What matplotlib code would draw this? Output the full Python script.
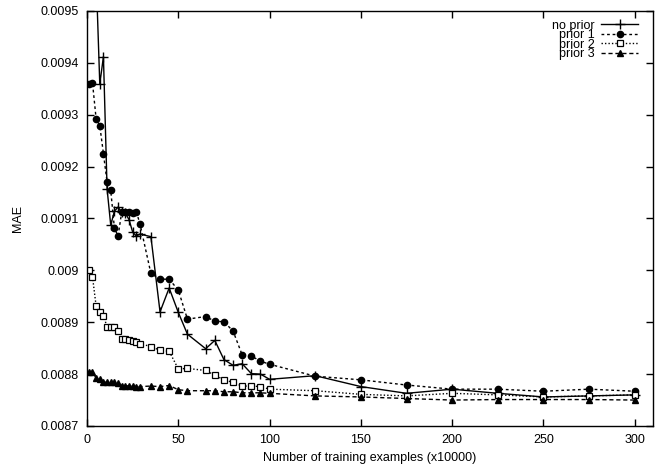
import numpy as np
import matplotlib
matplotlib.use("Agg")
import matplotlib.pyplot as plt

plt.rcParams['font.family'] = ['Liberation Sans', 'DejaVu Sans']

# training set sizes (x10000)
x = [1, 3, 5, 7, 9, 11, 13, 15, 17, 19, 21, 23, 25, 27, 29,
     35, 40, 45, 50, 55, 65, 70, 75, 80, 85, 90, 95, 100,
     125, 150, 175, 200, 225, 250, 275, 300]

no_prior = [0.0100, 0.0098, 0.00957, 0.009359, 0.009412, 0.009157, 0.009087, 0.009114,
            0.009122, 0.009112, 0.009110, 0.009098, 0.009074, 0.009066, 0.009070,
            0.009065, 0.008920, 0.008966, 0.008919, 0.008877, 0.008849, 0.008865,
            0.008828, 0.008817, 0.008820, 0.008801, 0.008800, 0.008790,
            0.008797, 0.008776, 0.008763, 0.008771, 0.008763, 0.008756, 0.008758, 0.008760]

prior1 = [0.009359, 0.009362, 0.009292, 0.009279, 0.009225, 0.009170, 0.009154, 0.009082,
          0.009066, 0.009112, 0.009112, 0.009112, 0.009110, 0.009113, 0.009090,
          0.008994, 0.008983, 0.008983, 0.008962, 0.008906, 0.008911, 0.008902,
          0.008901, 0.008883, 0.008837, 0.008835, 0.008825, 0.008819,
          0.008796, 0.008789, 0.008779, 0.008771, 0.008771, 0.008767, 0.008771, 0.008767]

prior2 = [0.009000, 0.008988, 0.008931, 0.008919, 0.008913, 0.008891, 0.008891, 0.008891,
          0.008883, 0.008868, 0.008868, 0.008866, 0.008864, 0.008862, 0.008859,
          0.008853, 0.008846, 0.008844, 0.008810, 0.008811, 0.008807, 0.008798,
          0.008789, 0.008784, 0.008777, 0.008777, 0.008776, 0.008771,
          0.008768, 0.008761, 0.008758, 0.008763, 0.008760, 0.008756, 0.008758, 0.008760]

prior3 = [0.008805, 0.008805, 0.008792, 0.008790, 0.008785, 0.008784, 0.008784, 0.008784,
          0.008783, 0.008778, 0.008778, 0.008777, 0.008777, 0.008776, 0.008776,
          0.008777, 0.008776, 0.008778, 0.008770, 0.008768, 0.008768, 0.008768,
          0.008766, 0.008766, 0.008764, 0.008764, 0.008764, 0.008763,
          0.008758, 0.008756, 0.008753, 0.008750, 0.008751, 0.008751, 0.008751, 0.008750]

xticks = [0, 50, 100, 150, 200, 250, 300]
yticks = [0.0087, 0.0088, 0.0089, 0.009, 0.0091, 0.0092, 0.0093, 0.0094, 0.0095]
ytick_labels = ['0.0087', '0.0088', '0.0089', '0.009', '0.0091', '0.0092', '0.0093', '0.0094', '0.0095']

fig = plt.figure(figsize=(6.6, 4.69), dpi=100)
ax = fig.add_axes([87/660, 1-426/469, (653-87)/660, (426-11)/469])

ax.plot(x, no_prior, color='black', lw=1, marker='+', ms=6.5, mew=1, label='no prior')
ax.plot(x, prior1, color='black', lw=1, ls=(0, (2, 2)), marker='o', ms=4.5, label='prior 1')
ax.plot(x, prior2, color='black', lw=1, ls=(0, (1, 1.5)), marker='s', ms=4.8,
        mfc='white', mew=0.9, label='prior 2')
ax.plot(x, prior3, color='black', lw=1, ls=(0, (3, 2)), marker='^', ms=3.8, label='prior 3')

ax.set_xlim(0, 310)
ax.set_ylim(0.0087, 0.0095)
ax.set_xticks(xticks)
ax.set_yticks(yticks)
ax.set_yticklabels(ytick_labels)
ax.tick_params(direction='in', length=5, width=1, labelsize=9, top=True, right=True,
               labeltop=False, labelright=False, pad=6)
for s in ax.spines.values():
    s.set_linewidth(1)

ax.set_xlabel('Number of training examples (x10000)', fontsize=9, labelpad=4)
ax.set_ylabel('MAE', fontsize=9, labelpad=12)

ax.legend(loc='upper right', bbox_to_anchor=(1 - 6/566, 1), frameon=False, fontsize=9,
          markerfirst=False, numpoints=1, handlelength=3.0, labelspacing=-0.2,
          borderaxespad=0.3, handletextpad=0.5)

fig.savefig('out.png', dpi=100)
